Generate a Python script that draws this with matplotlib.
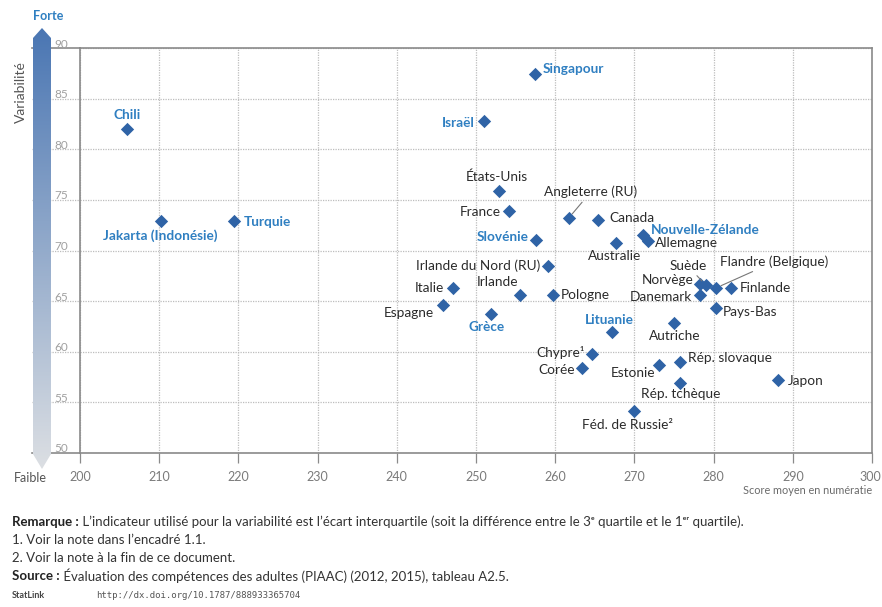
import numpy as np
import matplotlib
matplotlib.use("Agg")
import matplotlib.pyplot as plt
from matplotlib.patches import Polygon
from matplotlib.transforms import ScaledTranslation

# Données (score moyen en numératie, écart interquartile)
pays = ["Chili", "Jakarta (Indonésie)", "Turquie", "Singapour", "Israël",
        "États-Unis", "France", "Angleterre (RU)", "Canada", "Slovénie",
        "Australie", "Nouvelle-Zélande", "Allemagne", "Irlande du Nord (RU)",
        "Italie", "Irlande", "Pologne", "Espagne", "Grèce", "Lituanie",
        "Autriche", "Suède", "Norvège", "Flandre (Belgique)", "Finlande",
        "Danemark", "Pays-Bas", "Chypre¹", "Corée", "Estonie",
        "Rép. slovaque", "Rép. tchèque", "Japon", "Féd. de Russie²"]
score = [205.9, 210.2, 219.4, 257.4, 251.0,
         252.9, 254.2, 261.7, 265.4, 257.6,
         267.7, 271.1, 271.7, 259.1,
         247.1, 255.6, 259.7, 245.8, 251.9, 267.2,
         275.0, 279.0, 278.3, 280.3, 282.2,
         278.3, 280.3, 264.6, 263.4, 273.1,
         275.8, 275.8, 288.1, 270.0]
variabilite = [82.0, 72.9, 72.9, 87.4, 82.8,
               75.9, 73.9, 73.2, 73.0, 71.0,
               70.7, 71.5, 70.9, 68.5,
               66.3, 65.6, 65.6, 64.6, 63.7, 62.0,
               62.8, 66.6, 66.7, 66.3, 66.3,
               65.6, 64.3, 59.8, 58.4, 58.7,
               59.0, 56.9, 57.2, 54.1]
partenaires = ["Chili", "Jakarta (Indonésie)", "Turquie", "Singapour", "Israël",
               "Slovénie", "Nouvelle-Zélande", "Grèce", "Lituanie"]

# placement des étiquettes (décalage en pixels, alignement)
etiquettes = {
    "Chili": (0, 14, "center"), "Jakarta (Indonésie)": (-1, -15, "center"),
    "Turquie": (10, -1, "left"), "Singapour": (8, 5, "left"),
    "Israël": (-9, -2, "right"), "États-Unis": (-2, 14, "center"),
    "France": (-9, -1, "right"), "Angleterre (RU)": (22, 26, "center"),
    "Canada": (11, 2, "left"), "Slovénie": (-8, 3, "right"),
    "Australie": (-2, -13, "center"), "Nouvelle-Zélande": (8, 5, "left"),
    "Allemagne": (7, -2, "left"), "Irlande du Nord (RU)": (-8, 0, "right"),
    "Italie": (-9, 0, "right"), "Irlande": (-23, 13, "center"),
    "Pologne": (8, 0, "left"), "Espagne": (-9, -8, "right"),
    "Grèce": (-4, -13, "center"), "Lituanie": (-3, 11, "center"),
    "Autriche": (1, -13, "center"), "Suède": (-18, 19, "center"),
    "Norvège": (-7, 4, "right"), "Flandre (Belgique)": (4, 26, "left"),
    "Finlande": (9, 0, "left"), "Danemark": (-8, -2, "right"),
    "Pays-Bas": (7, -4, "left"), "Chypre¹": (-7, 1, "right"),
    "Corée": (-7, -2, "right"), "Estonie": (-4, -8, "right"),
    "Rép. slovaque": (8, 4, "left"), "Rép. tchèque": (0, -11, "center"),
    "Japon": (10, -1, "left"), "Féd. de Russie²": (-7, -14, "center"),
}
avec_trait = ["Angleterre (RU)", "Suède", "Flandre (Belgique)"]

W, H = 882, 607
BLEU = "#2f63a6"
BLEU_TXT = "#2f7fc1"
GRIS = "#8a8a8a"
plt.rcParams["font.family"] = ["Lato", "DejaVu Sans"]


def px(x0, y0, w, h):
    return [x0 / W, 1 - (y0 + h) / H, w / W, h / H]


fig = plt.figure(figsize=(W / 100, H / 100), dpi=100)
ax = fig.add_axes(px(80, 48, 792, 405))
ax.set_xlim(200, 300)
ax.set_ylim(50, 90)

ax.set_xticks(np.arange(200, 301, 10))
ax.set_yticks(np.arange(50, 91, 5))
ax.grid(True, color="#bdbdbd", linestyle=(0, (1, 1)), linewidth=0.9)
ax.set_axisbelow(True)
for s in ax.spines.values():
    s.set_color(GRIS)
    s.set_linewidth(1.2)
ax.tick_params(axis="x", colors=GRIS, length=7, width=0.9, pad=6, labelsize=9)
ax.tick_params(axis="y", length=0, pad=8.5, labelsize=8.5, labelcolor="#a0a0a0")
for lab in ax.get_yticklabels():
    lab.set_transform(lab.get_transform() + ScaledTranslation(0, 0.05, fig.dpi_scale_trans))
for lab in ax.get_xticklabels():
    lab.set_color("#7a7a7a")
# le dernier libellé touche le bord droit
ax.get_xticklabels()[-1].set_transform(
    ax.get_xticklabels()[-1].get_transform() + ScaledTranslation(-0.02, 0, fig.dpi_scale_trans))

# lignes horizontales prolongées vers la barre
for v in ax.get_yticks():
    solide = v in (50, 90)
    ax.plot([-0.06, 0], [v, v], transform=ax.get_yaxis_transform(), clip_on=False,
            color=GRIS if solide else "#bdbdbd", lw=1.2 if solide else 0.9,
            ls="-" if solide else (0, (1, 1)), zorder=0)

ax.scatter(score, variabilite, marker="D", s=46, color=BLEU, zorder=3, linewidths=0)

for nom, x, y in zip(pays, score, variabilite):
    dx, dy, ha = etiquettes[nom]
    couleur = BLEU_TXT if nom in partenaires else "#2b2b2b"
    props = None
    if nom in avec_trait:
        props = dict(arrowstyle="-", color="#777777", lw=0.8, shrinkA=1, shrinkB=4)
    ax.annotate(nom, (x, y), xytext=(dx, dy), textcoords="offset pixels",
                ha=ha, va="center", fontsize=9.8, color=couleur,
                fontweight="bold" if nom in partenaires else "normal",
                arrowprops=props, zorder=4)

# barre dégradée Faible -> Forte
bar = fig.add_axes(px(33, 28, 18, 441))
bar.set_xlim(0, 1)
bar.set_ylim(0, 441)
bar.axis("off")
haut = np.array([0x4a, 0x76, 0xb3]) / 255
bas = np.array([0xdc, 0xdf, 0xe3]) / 255
t = np.linspace(0, 1, 256)[:, None]
grad = bas + (haut - bas) * t
img = bar.imshow(grad[:, None, :], extent=[0, 1, 0, 441], origin="lower", aspect="auto")
forme = Polygon([[0, 15], [0, 431], [0.5, 441], [1, 431], [1, 15], [0.5, 0]],
                closed=True, transform=bar.transData, facecolor="none", edgecolor="none")
bar.add_patch(forme)
img.set_clip_path(forme)

fig.text(48 / W, 1 - 16 / H, "Forte", ha="center", va="center", fontsize=9,
         color=BLEU_TXT, fontweight="bold")
fig.text(30 / W, 1 - 478 / H, "Faible", ha="center", va="center", fontsize=9, color="#555555")
fig.text(21 / W, 1 - 92 / H, "Variabilité", ha="center", va="center", fontsize=10,
         color="#555555", rotation=90)
fig.text(872 / W, 1 - 491 / H, "Score moyen en numératie", ha="right", va="center",
         fontsize=7.8, color="#6a6a6a")

# notes de bas de page
notes = [
    ("Remarque :", " L’indicateur utilisé pour la variabilité est l’écart interquartile "
     "(soit la différence entre le 3ᵉ quartile et le 1ᵉʳ quartile).", 522),
    ("", "1. Voir la note dans l’encadré 1.1.", 540),
    ("", "2. Voir la note à la fin de ce document.", 558),
    ("Source :", " Évaluation des compétences des adultes (PIAAC) (2012, 2015), tableau A2.5.", 576),
]
for gras, texte, yp in notes:
    x0 = 12 / W
    if gras:
        tg = fig.text(x0, 1 - yp / H, gras, ha="left", va="center", fontsize=9.5,
                      color="#222222", fontweight="bold")
        fig.canvas.draw()
        bb = tg.get_window_extent()
        x0 = bb.x1 / W
    fig.text(x0, 1 - yp / H, texte, ha="left", va="center", fontsize=9.5, color="#333333")
fig.text(12 / W, 1 - 596 / H, "StatLink", ha="left", va="center", fontsize=6.5,
         color="#444444", fontweight="bold")
fig.text(96 / W, 1 - 596 / H, "http://dx.doi.org/10.1787/888933365704", ha="left",
         va="center", fontsize=6.5, color="#555555", family="DejaVu Sans Mono")

fig.savefig("out.png", dpi=100)
